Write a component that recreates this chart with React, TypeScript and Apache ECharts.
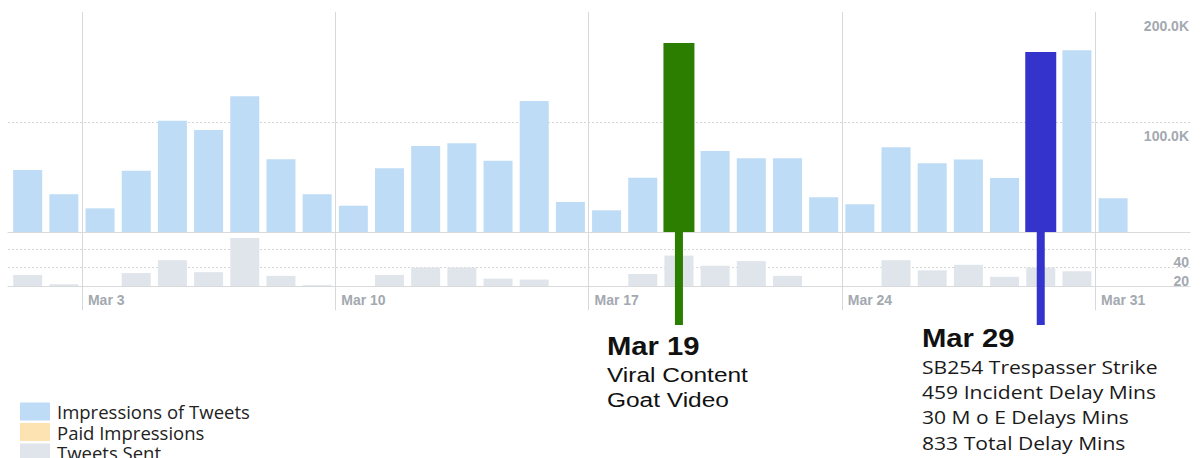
import React, { useEffect, useRef } from 'react';
import * as echarts from 'echarts';

const days = [
  'Mar 1', 'Mar 2', 'Mar 3', 'Mar 4', 'Mar 5', 'Mar 6', 'Mar 7', 'Mar 8', 'Mar 9', 'Mar 10',
  'Mar 11', 'Mar 12', 'Mar 13', 'Mar 14', 'Mar 15', 'Mar 16', 'Mar 17', 'Mar 18', 'Mar 19', 'Mar 20',
  'Mar 21', 'Mar 22', 'Mar 23', 'Mar 24', 'Mar 25', 'Mar 26', 'Mar 27', 'Mar 28', 'Mar 29', 'Mar 30', 'Mar 31',
];

// day boundaries (start of each day + end of month); labelled weeks only
const boundaryLabels = [
  '', '', 'Mar 3', '', '', '', '', '', '', 'Mar 10', '', '', '', '', '', '', 'Mar 17', '', '', '', '', '', '',
  'Mar 24', '', '', '', '', '', '', 'Mar 31', '',
];

const impressions = [
  56400, 34300, 21500, 55700, 101200, 92700, 123300, 66100, 34300, 23900,
  57900, 78200, 80600, 64800, 119100, 27300, 19700, 49400, 171800, 73600,
  67000, 67000, 31500, 25200, 77000, 62400, 65800, 49100, 163600, 165200, 30600,
];

const tweetsSent = [
  12, 2, 0, 14, 28, 15, 52, 11, 1, 0,
  12, 20, 20, 8, 7, 0, 0, 13, 33, 22,
  27, 11, 0, 0, 28, 17, 23, 10, 20, 16, 0,
];

const highlightDays = ['Mar 19', 'Mar 29'];
const highlightValues = [171800, 163600];
const highlightColors = ['#2b7e00', '#3434cc'];

const legendNames = ['Impressions of Tweets', 'Paid Impressions', 'Tweets Sent'];

const impressionTicks = [0, 100000, 200000];
const tweetTicks = [0, 20, 40, 60];

const BLUE = '#bedcf5';
const PAID = '#fde3b1';
const GREY = '#e0e5eb';
const AXIS_TEXT = '#a3a9b0';
const GRID_LINE = '#d6d6d6';
const VLINE = '#d5d8dc';

const highlightData = days.map((d) => {
  const i = highlightDays.indexOf(d);
  return i < 0 ? null : { value: highlightValues[i], itemStyle: { color: highlightColors[i] } };
});
const stemGreen = days.map((d) => (d === highlightDays[0] ? 1 : null));
const stemBlue = days.map((d) => (d === highlightDays[1] ? 1 : null));

const fmtK = (v: number) => (v / 1000).toFixed(1) + 'K';

const BARS_LEFT = 9.6;
const BARS_RIGHT = 69.8;
const BG_LEFT = 8;
const BG_RIGHT = 11;
const TOP_T = 12;
const TOP_H = 220;
const BOT_T = 230.7;
const BOT_H = 55.3;

const axisLabelStyle = {
  fontFamily: 'Liberation Sans',
  fontSize: 14,
  fontWeight: 'bold' as const,
  color: AXIS_TEXT,
};

const hiddenCat = (gridIndex: number) => ({
  type: 'category' as const,
  gridIndex,
  data: days,
  show: false,
  boundaryGap: true,
});

const legendBase = {
  orient: 'vertical',
  left: 20,
  padding: 0,
  icon: 'rect',
  itemWidth: 30,
  itemHeight: 18,
  itemGap: 0,
  selectedMode: false,
  textStyle: { fontFamily: 'Open Sans', fontSize: 18.5, lineHeight: 18, color: '#222', padding: [0, 0, 0, 2] },
};

const option = {
  animation: false,
  backgroundColor: '#ffffff',
  legend: legendNames.map((n, i) => ({ ...legendBase, data: [n], top: 402 + i * 20.5 })),
  grid: [
    { left: BG_LEFT, right: BG_RIGHT, top: TOP_T, height: TOP_H },
    { left: BG_LEFT, right: BG_RIGHT, top: BOT_T, height: BOT_H },
    { left: BARS_LEFT, right: BARS_RIGHT, top: TOP_T, height: TOP_H },
    { left: BARS_LEFT, right: BARS_RIGHT, top: BOT_T, height: BOT_H },
    { left: BARS_LEFT, right: BARS_RIGHT, top: 232, height: 93 },
    { left: BARS_LEFT, right: BARS_RIGHT, top: TOP_T, height: TOP_H },
  ],
  xAxis: [
    {
      type: 'value', gridIndex: 0, min: 0, max: 1,
      axisLine: { show: true, onZero: false, lineStyle: { color: '#d9dadb' } },
      axisTick: { show: false }, axisLabel: { show: false }, splitLine: { show: false },
    },
    {
      type: 'value', gridIndex: 1, min: 0, max: 1,
      axisLine: { show: true, onZero: false, lineStyle: { color: '#d9dadb' } },
      axisTick: { show: false }, axisLabel: { show: false }, splitLine: { show: false },
    },
    hiddenCat(2),
    {
      type: 'category', gridIndex: 2, data: boundaryLabels, boundaryGap: false, position: 'top',
      axisLine: { show: false }, axisTick: { show: false }, axisLabel: { show: false },
      splitLine: { show: true, interval: (_i: number, v: string) => v !== '', lineStyle: { color: VLINE, width: 1 } },
    },
    hiddenCat(3),
    {
      type: 'category', gridIndex: 3, data: boundaryLabels, boundaryGap: false, position: 'bottom',
      axisLine: { show: true, onZero: false, lineStyle: { color: '#d9dadb' } },
      axisTick: { show: true, length: 24, interval: (_i: number, v: string) => v !== '', lineStyle: { color: VLINE } },
      axisLabel: { ...axisLabelStyle, interval: 0, align: 'left', padding: [0, 0, 0, 6], margin: 7 },
      splitLine: { show: true, interval: (_i: number, v: string) => v !== '', lineStyle: { color: VLINE, width: 1 } },
    },
    hiddenCat(4),
    hiddenCat(5),
  ],
  yAxis: [
    {
      type: 'value', gridIndex: 0, position: 'right', min: impressionTicks[0], max: impressionTicks[2],
      interval: impressionTicks[1] - impressionTicks[0],
      axisLine: { show: false }, axisTick: { show: false },
      axisLabel: {
        ...axisLabelStyle, inside: true, margin: 1, align: 'right', verticalAlign: 'top',
        padding: [7, 0, 0, 0], showMinLabel: false, formatter: fmtK,
      },
      splitLine: { show: true, showMinLine: false, showMaxLine: false, lineStyle: { color: GRID_LINE, type: [2, 2] } },
    },
    {
      type: 'value', gridIndex: 1, position: 'right', min: tweetTicks[0], max: tweetTicks[3],
      interval: tweetTicks[1] - tweetTicks[0],
      axisLine: { show: false }, axisTick: { show: false },
      axisLabel: {
        ...axisLabelStyle, inside: true, margin: 1, align: 'right', verticalAlign: 'top',
        padding: [6, 0, 0, 0], showMinLabel: false, showMaxLabel: false,
      },
      splitLine: { show: true, showMinLine: false, showMaxLine: false, lineStyle: { color: GRID_LINE, type: [2, 2] } },
    },
    { type: 'value', gridIndex: 2, min: impressionTicks[0], max: impressionTicks[2], show: false },
    { type: 'value', gridIndex: 3, min: tweetTicks[0], max: tweetTicks[3], show: false },
    { type: 'value', gridIndex: 4, min: 0, max: 1, show: false },
    { type: 'value', gridIndex: 5, min: impressionTicks[0], max: impressionTicks[2], show: false },
  ],
  series: [
    {
      name: legendNames[0], type: 'bar', xAxisIndex: 2, yAxisIndex: 2,
      data: impressions, barWidth: 29, itemStyle: { color: BLUE }, z: 2,
    },
    {
      name: legendNames[1], type: 'line', xAxisIndex: 2, yAxisIndex: 2,
      data: [], itemStyle: { color: PAID }, lineStyle: { color: PAID },
    },
    {
      name: legendNames[2], type: 'bar', xAxisIndex: 4, yAxisIndex: 3,
      data: tweetsSent, barWidth: 29, itemStyle: { color: GREY }, z: 2,
    },
    {
      name: 'Highlight', type: 'bar', xAxisIndex: 7, yAxisIndex: 5,
      data: highlightData, barWidth: 31, z: 4,
    },
    {
      name: 'Stem A', type: 'bar', xAxisIndex: 6, yAxisIndex: 4, stack: 'stem',
      data: stemGreen, barWidth: 8, z: 4, itemStyle: { color: highlightColors[0] },
    },
    {
      name: 'Stem B', type: 'bar', xAxisIndex: 6, yAxisIndex: 4, stack: 'stem',
      data: stemBlue, barWidth: 8, z: 4, itemStyle: { color: highlightColors[1] },
    },
  ],
  graphic: [
    {
      type: 'text', x: 607, y: 346, scaleX: 1.17,
      style: { text: 'Mar 19', fontFamily: 'Liberation Sans', fontWeight: 'bold', fontSize: 25, fill: '#111', textVerticalAlign: 'middle' },
    },
    {
      type: 'text', x: 607, y: 362.5, scaleX: 1.165,
      style: { text: 'Viral Content\nGoat Video', fontFamily: 'Liberation Sans', fontSize: 21, lineHeight: 25, fill: '#111', textVerticalAlign: 'top' },
    },
    {
      type: 'text', x: 922, y: 338, scaleX: 1.17,
      style: { text: 'Mar 29', fontFamily: 'Liberation Sans', fontWeight: 'bold', fontSize: 25, fill: '#111', textVerticalAlign: 'middle' },
    },
    {
      type: 'text', x: 922, y: 354, scaleX: 1.11,
      style: {
        text: 'SB254 Trespasser Strike\n459 Incident Delay Mins\n30 M o E Delays Mins\n833 Total Delay Mins',
        fontFamily: 'Open Sans', fontSize: 19, lineHeight: 25.3, fill: '#1a1a1a', textVerticalAlign: 'top',
      },
    },
  ],
};

export default function App() {
  const ref = useRef<HTMLDivElement>(null);
  useEffect(() => {
    const chart = echarts.init(ref.current as HTMLDivElement, undefined, { renderer: 'svg' });
    chart.setOption(option as any);
    return () => chart.dispose();
  }, []);
  return <div ref={ref} style={{ position: 'absolute', left: 0, top: 0, width: 1201, height: 458 }} />;
}
